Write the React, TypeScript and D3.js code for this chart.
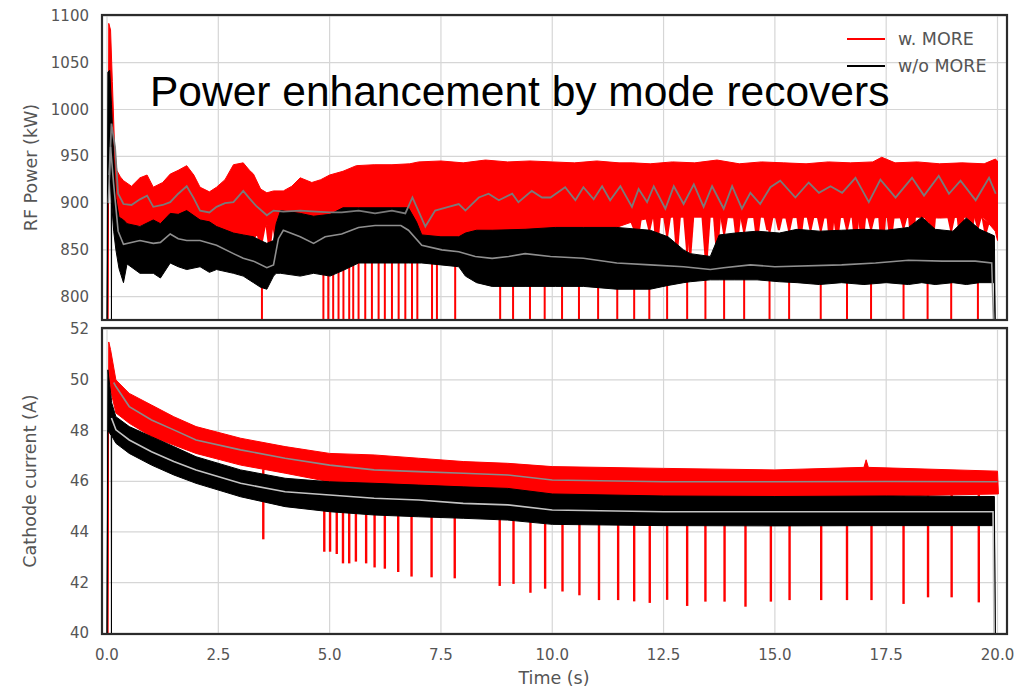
import React from "react";
import * as d3 from "d3";

const W = 1032;
const H = 689;

// ---------- ticks / labels ----------
const xTicks = [0, 2.5, 5, 7.5, 10, 12.5, 15, 17.5, 20];
const powerTicks = [800, 850, 900, 950, 1000, 1050, 1100];
const currentTicks = [40, 42, 44, 46, 48, 50, 52];
const seriesNames = ["w. MORE", "w/o MORE"];
const seriesColors = ["#ff0000", "#000000"];
const titleText = "Power enhancement by mode recovers";

// ---------- RF power, w. MORE : [t, hi, lo] noise envelope ----------
const redPowerBand: [number, number, number][] = [
  [0.02, 760, 760], [0.04, 1092, 960], [0.08, 1085, 990], [0.12, 1030, 930],
  [0.17, 960, 900], [0.22, 935, 890], [0.30, 928, 882], [0.37, 924, 878],
  [0.55, 918, 876], [0.74, 927, 876], [0.90, 930, 878], [1.04, 917, 876],
  [1.25, 922, 878], [1.42, 931, 878], [1.60, 935, 880], [1.79, 940, 884],
  [1.95, 930, 878], [2.09, 917, 872], [2.30, 912, 870], [2.46, 917, 872],
  [2.65, 925, 868], [2.84, 941, 866], [3.06, 943, 866], [3.20, 935, 862],
  [3.29, 931, 862], [3.45, 915, 870], [3.59, 911, 876], [3.74, 913, 876],
  [3.96, 913, 880], [4.15, 918, 882], [4.34, 927, 882], [4.60, 922, 882],
  [4.80, 925, 882], [5.00, 930, 885], [5.30, 934, 885], [5.60, 940, 885],
  [6.00, 941, 885], [6.40, 941, 885], [6.80, 942, 880], [7.00, 944, 862],
  [7.50, 945, 862], [8.00, 943, 862], [8.50, 946, 862], [9.00, 944, 862],
  [9.50, 945, 862], [10.0, 944, 865], [10.5, 943, 868], [11.0, 945, 870],
  [11.5, 943, 875], [11.8, 943, 880], [12.2, 942, 884], [12.7, 944, 885],
  [13.2, 943, 885], [13.7, 946, 885], [14.2, 942, 884], [14.7, 944, 885],
  [15.2, 943, 884], [15.7, 942, 885], [16.2, 944, 884], [16.7, 943, 885],
  [17.2, 944, 884], [17.4, 949, 885], [17.7, 943, 884], [18.2, 944, 885],
  [18.7, 942, 884], [19.2, 943, 885], [19.7, 942, 884], [19.95, 947, 870],
  [20.0, 945, 860],
];

// smoothed RF power, w. MORE : [t, value]
const redPowerMean: [number, number][] = [
  [0.05, 930], [0.10, 985], [0.18, 960], [0.25, 910], [0.37, 899], [0.55, 898],
  [0.74, 904], [0.90, 908], [1.04, 896], [1.25, 898], [1.42, 901], [1.60, 910],
  [1.79, 918], [1.95, 905], [2.09, 892], [2.30, 890], [2.46, 896], [2.65, 900],
  [2.84, 901], [3.06, 913], [3.20, 905], [3.35, 897], [3.59, 887], [3.74, 892],
  [3.96, 891], [4.34, 892], [4.70, 891], [5.01, 890], [5.27, 890], [5.65, 892],
  [6.02, 889], [6.40, 892], [6.70, 889], [6.86, 906], [7.15, 875], [7.37, 892],
  [7.67, 896], [7.90, 899], [8.05, 892], [8.35, 906], [8.57, 910], [8.80, 903],
  [9.10, 910], [9.24, 901], [9.54, 913], [9.77, 906], [9.96, 906], [10.29, 917],
  [10.52, 903], [10.70, 917], [10.93, 904], [11.12, 918], [11.30, 903], [11.53, 918],
  [11.79, 896], [11.94, 915], [12.13, 901], [12.28, 918], [12.54, 894], [12.73, 918],
  [12.95, 899], [13.18, 920], [13.40, 896], [13.59, 918], [13.85, 894], [14.04, 918],
  [14.26, 894], [14.45, 911], [14.67, 899], [14.90, 917], [15.12, 924], [15.46, 906],
  [15.76, 922], [15.99, 911], [16.25, 918], [16.51, 911], [16.81, 927], [17.11, 901],
  [17.37, 925], [17.71, 906], [18.08, 927], [18.35, 908], [18.68, 929], [18.91, 910],
  [19.17, 924], [19.51, 903], [19.81, 927], [19.96, 910],
];

// MORE events: deep dips of RF power (below axis)
const moreDipTimes = [
  3.48, 4.86, 4.97, 5.08, 5.2, 5.31, 5.44, 5.53, 5.65, 5.8, 5.95, 6.1, 6.24, 6.4,
  6.55, 6.7, 6.85, 6.97, 7.3, 7.41, 7.82, 8.83, 9.12, 9.5, 9.83, 10.22, 10.6,
  11.03, 11.46, 11.84, 12.18, 12.58, 13.03, 13.44, 13.86, 14.31, 14.88, 15.32,
  16.03, 16.62, 17.16, 17.89, 18.43, 18.96, 19.56,
];
const moreDipFloor = 700;

// shallower downward teeth of RF power w. MORE : [t, min]
const redPowerTeeth: [number, number][] = [
  [3.45, 855], [3.65, 850], [3.8, 855], [11.92, 860], [12.35, 850], [12.80, 846],
  [13.10, 843], [13.47, 841], [13.70, 843], [14.15, 857], [14.60, 860], [14.83, 871],
  [15.09, 871], [15.57, 860], [15.80, 871], [16.25, 850], [16.40, 860], [16.81, 853],
  [16.96, 850], [17.41, 843], [17.60, 857], [18.08, 846], [18.53, 850], [19.17, 857],
  [19.40, 860], [19.73, 867],
];

// ---------- RF power, w/o MORE ----------
const blackPowerBand: [number, number, number][] = [
  [0.00, 760, 760], [0.02, 1040, 900], [0.06, 1042, 950], [0.095, 1010, 900],
  [0.10, 1005, 760], [0.105, 1000, 900], [0.15, 950, 870], [0.20, 905, 850],
  [0.27, 885, 830], [0.37, 882, 815], [0.45, 878, 835], [0.74, 875, 825],
  [1.04, 882, 825], [1.20, 878, 820], [1.42, 889, 836], [1.60, 888, 832],
  [1.79, 892, 829], [2.09, 882, 832], [2.30, 880, 826], [2.46, 875, 829],
  [2.84, 868, 825], [3.06, 866, 822], [3.29, 864, 815], [3.45, 860, 810],
  [3.59, 857, 808], [3.74, 860, 822], [3.80, 878, 825], [3.90, 892, 825],
  [4.34, 889, 822], [4.64, 886, 825], [5.01, 888, 822], [5.30, 895, 828],
  [5.65, 895, 836], [6.02, 895, 836], [6.40, 895, 836], [6.77, 895, 836],
  [6.95, 880, 836], [7.07, 866, 836], [7.50, 864, 834], [7.90, 864, 832],
  [8.05, 868, 822], [8.30, 871, 815], [8.65, 871, 811], [9.39, 872, 811],
  [10.07, 874, 811], [10.70, 874, 811], [11.45, 874, 808], [12.20, 871, 808],
  [12.60, 864, 812], [12.95, 850, 815], [13.10, 846, 816], [13.55, 843, 818],
  [13.75, 866, 818], [14.10, 868, 818], [14.60, 870, 818], [15.10, 868, 816],
  [15.50, 872, 815], [16.00, 870, 813], [16.50, 871, 815], [17.00, 872, 813],
  [17.50, 871, 815], [18.00, 874, 813], [18.30, 885, 815], [18.60, 872, 813],
  [19.00, 870, 815], [19.30, 884, 813], [19.60, 872, 815], [19.93, 865, 815],
  [19.95, 760, 760],
];

const blackPowerMean: [number, number][] = [
  [0.03, 900], [0.08, 960], [0.15, 920], [0.25, 870], [0.37, 856], [0.74, 860],
  [1.04, 857], [1.20, 858], [1.42, 867], [1.60, 862], [1.79, 860], [2.09, 860],
  [2.46, 855], [2.84, 846], [3.06, 841], [3.29, 838], [3.59, 831], [3.74, 834],
  [3.85, 862], [3.96, 871], [4.34, 864], [4.64, 857], [4.90, 864], [5.27, 867],
  [5.65, 874], [6.02, 876], [6.60, 876], [6.77, 871], [7.07, 855], [7.52, 850],
  [7.90, 848], [8.27, 843], [8.65, 841], [9.02, 843], [9.39, 846], [9.96, 843],
  [10.70, 841], [11.45, 836], [12.20, 834], [12.95, 832], [13.55, 829], [13.85, 831],
  [14.45, 834], [15.00, 832], [16.50, 834], [17.26, 836], [18.00, 839], [18.76, 838],
  [19.50, 838], [19.87, 836], [19.92, 760],
];

// ---------- Cathode current, w. MORE ----------
const redCurrentBand: [number, number, number][] = [
  [0.02, 40, 40], [0.04, 51.5, 50.3], [0.08, 51.2, 49.6], [0.2, 50.0, 48.7],
  [0.5, 49.47, 48.29], [1.0, 49.01, 47.76], [1.5, 48.55, 47.43], [2.0, 48.16, 47.1],
  [3.0, 47.7, 46.64], [4.0, 47.37, 46.32], [5.0, 47.1, 45.98], [6.0, 47.04, 45.92],
  [7.0, 46.91, 45.79], [8.0, 46.78, 45.72], [9.0, 46.71, 45.66], [10.0, 46.58, 45.46],
  [12.5, 46.51, 45.39], [15.0, 46.45, 45.39], [17.0, 46.55, 45.4], [17.05, 46.85, 45.4],
  [17.1, 46.55, 45.4], [20.0, 46.4, 45.5], [20.02, 45.5, 45.5],
];

const redCurrentMean: [number, number][] = [
  [0.15, 49.9], [0.2, 49.74], [0.5, 48.95], [1.0, 48.42], [1.5, 48.03], [2.0, 47.63],
  [3.0, 47.24], [4.0, 46.91], [5.0, 46.64], [6.0, 46.45], [7.0, 46.38], [8.0, 46.32],
  [9.0, 46.25], [10.0, 46.05], [12.5, 45.98], [15.0, 45.98], [17.5, 45.99], [20.0, 45.98],
];

// current drops at MORE events : [t, min]
const currentSpikes: [number, number][] = [
  [3.51, 43.71], [4.88, 43.22], [5.01, 43.22], [5.16, 43.13], [5.30, 42.76],
  [5.44, 42.76], [5.59, 42.83], [5.82, 42.76], [6.01, 42.6], [6.24, 42.55],
  [6.54, 42.42], [6.84, 42.24], [7.29, 42.21], [7.81, 42.17], [8.82, 41.87],
  [9.13, 41.95], [9.51, 41.6], [9.84, 41.76], [10.23, 41.65], [10.61, 41.5],
  [11.05, 41.31], [11.48, 41.31], [11.84, 41.26], [12.19, 41.2], [12.58, 41.32],
  [13.03, 41.08], [13.44, 41.25], [13.87, 41.25], [14.34, 41.05], [14.91, 41.25],
  [15.33, 41.31], [16.04, 41.31], [16.62, 41.31], [17.17, 41.31], [17.89, 41.16],
  [18.44, 41.42], [18.97, 41.42], [19.58, 41.22],
];

// ---------- Cathode current, w/o MORE ----------
const blackCurrentBand: [number, number, number][] = [
  [0.00, 40, 40], [0.02, 50.4, 48.0], [0.06, 49.8, 47.9], [0.095, 49.3, 47.8],
  [0.10, 49.2, 40], [0.105, 49.1, 47.8], [0.2, 48.55, 47.5], [0.5, 48.16, 47.1],
  [1.0, 47.76, 46.64], [1.5, 47.37, 46.25], [2.0, 46.97, 45.92], [3.0, 46.45, 45.39],
  [4.0, 46.12, 45.0], [5.0, 45.98, 44.8], [6.0, 45.92, 44.67], [7.0, 45.85, 44.6],
  [8.0, 45.78, 44.54], [9.0, 45.72, 44.47], [10.0, 45.5, 44.3], [12.5, 45.42, 44.25],
  [15.0, 45.4, 44.24], [17.5, 45.42, 44.25], [19.93, 45.4, 44.25], [19.95, 40, 40],
];

const blackCurrentMean: [number, number][] = [
  [0.1, 48.5], [0.2, 48.03], [0.5, 47.63], [1.0, 47.17], [1.5, 46.78], [2.0, 46.45],
  [3.0, 45.92], [4.0, 45.59], [5.0, 45.46], [6.0, 45.33], [7.0, 45.26], [8.0, 45.13],
  [9.0, 45.07], [10.0, 44.87], [12.5, 44.8], [15.0, 44.8], [17.5, 44.8], [19.9, 44.8],
  [19.92, 40],
];

// ---------- layout ----------
const topBox = { left: 102, top: 15, right: 1007, bottom: 320 };
const botBox = { left: 102, top: 328, right: 1007, bottom: 634 };

const x = d3.scaleLinear().domain([0, 20]).range([107, 997.5]);
const yTop = d3.scaleLinear().domain([800, 1100]).range([296.7, 15.9]);
const yBot = d3.scaleLinear().domain([40, 52]).range([633.3, 329.3]);

const tickFont = "'DejaVu Sans', Verdana, sans-serif";
const tickColor = "#555";

function bandPath(data: [number, number, number][], y: d3.ScaleLinear<number, number>) {
  return d3
    .area<[number, number, number]>()
    .x((d) => x(d[0]))
    .y0((d) => y(d[2]))
    .y1((d) => y(d[1]))(data) as string;
}
function linePath(data: [number, number][], y: d3.ScaleLinear<number, number>) {
  return d3
    .line<[number, number]>()
    .x((d) => x(d[0]))
    .y((d) => y(d[1]))(data) as string;
}
function interp(data: [number, number, number][], idx: number) {
  return d3
    .scaleLinear()
    .domain(data.map((d) => d[0]))
    .range(data.map((d) => d[idx]))
    .clamp(true);
}

const redPowLoAt = interp(redPowerBand, 2);
const blackPowHiAt = interp(blackPowerBand, 1);
const redCurLoAt = interp(redCurrentBand, 2);

function Grid({ box, y, ticks }: any) {
  return (
    <g>
      {xTicks.map((t) => (
        <line key={"gx" + t} x1={x(t)} x2={x(t)} y1={box.top} y2={box.bottom} stroke="#d6d6d6" strokeWidth={1.2} />
      ))}
      {ticks.map((v: number) => (
        <line key={"gy" + v} x1={box.left} x2={box.right} y1={y(v)} y2={y(v)} stroke="#d6d6d6" strokeWidth={1.2} />
      ))}
    </g>
  );
}

export default function App() {
  const ptsStr = (pts: [number, number][]) => pts.map((p) => p.join(",")).join(" ");
  const toothHalf = 0.09;

  return (
    <svg
      width={W}
      height={H}
      viewBox={`0 0 ${W} ${H}`}
      style={{ position: "absolute", left: 0, top: 0, background: "#fff" }}
    >
      <defs>
        <clipPath id="clipTop">
          <rect x={topBox.left} y={topBox.top} width={topBox.right - topBox.left} height={topBox.bottom - topBox.top} />
        </clipPath>
        <clipPath id="clipBot">
          <rect x={botBox.left} y={botBox.top} width={botBox.right - botBox.left} height={botBox.bottom - botBox.top} />
        </clipPath>
      </defs>
      <rect x={0} y={0} width={W} height={H} fill="#fff" />

      {/* ---------------- top panel ---------------- */}
      <Grid box={topBox} y={yTop} ticks={powerTicks} />
      <g clipPath="url(#clipTop)">
        <path d={bandPath(redPowerBand, yTop)} fill={seriesColors[0]} stroke={seriesColors[0]} strokeWidth={1} />
        {redPowerTeeth.map(([t, m], i) => (
          <polygon
            key={"tt" + i}
            fill={seriesColors[0]}
            points={ptsStr([
              [x(t - toothHalf), yTop(redPowLoAt(t - toothHalf)) - 1],
              [x(t) - 1, yTop(m)],
              [x(t) + 1, yTop(m)],
              [x(t + toothHalf), yTop(redPowLoAt(t + toothHalf)) - 1],
            ])}
          />
        ))}
        {moreDipTimes.map((t, i) => (
          <polygon
            key={"dd" + i}
            fill={seriesColors[0]}
            points={ptsStr([
              [x(t - toothHalf), yTop(redPowLoAt(t - toothHalf)) - 1],
              [x(t) - 1, yTop(blackPowHiAt(t))],
              [x(t) - 1, yTop(moreDipFloor)],
              [x(t) + 1, yTop(moreDipFloor)],
              [x(t) + 1, yTop(blackPowHiAt(t))],
              [x(t + toothHalf), yTop(redPowLoAt(t + toothHalf)) - 1],
            ])}
          />
        ))}
        <path d={bandPath(blackPowerBand, yTop)} fill={seriesColors[1]} stroke={seriesColors[1]} strokeWidth={1} />
        <path d={linePath(redPowerMean, yTop)} fill="none" stroke="#7a7a7a" strokeWidth={1.8} />
        <path d={linePath(blackPowerMean, yTop)} fill="none" stroke="#8f8f8f" strokeWidth={1.6} />
      </g>
      <rect
        x={topBox.left}
        y={topBox.top}
        width={topBox.right - topBox.left}
        height={topBox.bottom - topBox.top}
        fill="none"
        stroke="#2b2b2b"
        strokeWidth={2.2}
      />
      {powerTicks.map((v) => (
        <text key={"pt" + v} x={89} y={yTop(v)} textAnchor="end" dominantBaseline="central" fontFamily={tickFont} fontSize={15} fill={tickColor}>
          {v}
        </text>
      ))}
      <text
        transform={`translate(31,${(topBox.top + topBox.bottom) / 2}) rotate(-90)`}
        textAnchor="middle"
        dominantBaseline="central"
        fontFamily={tickFont}
        fontSize={17.5}
        fill={tickColor}
      >
        RF Power (kW)
      </text>

      {/* legend */}
      {seriesNames.map((n, i) => (
        <g key={"lg" + i}>
          <line x1={847} x2={885} y1={39 + i * 27} y2={39 + i * 27} stroke={seriesColors[i]} strokeWidth={2} />
          <text x={898} y={39 + i * 27} dominantBaseline="central" fontFamily={tickFont} fontSize={17.5} fill={tickColor}>
            {n}
          </text>
        </g>
      ))}

      {/* ---------------- bottom panel ---------------- */}
      <Grid box={botBox} y={yBot} ticks={currentTicks} />
      <g clipPath="url(#clipBot)">
        <path d={bandPath(redCurrentBand, yBot)} fill={seriesColors[0]} stroke={seriesColors[0]} strokeWidth={1} />
        {currentSpikes.map(([t, m], i) => (
          <line
            key={"cs" + i}
            x1={x(t)}
            x2={x(t)}
            y1={yBot(redCurLoAt(t))}
            y2={yBot(m)}
            stroke={seriesColors[0]}
            strokeWidth={2.4}
          />
        ))}
        <path d={bandPath(blackCurrentBand, yBot)} fill={seriesColors[1]} stroke={seriesColors[1]} strokeWidth={1} />
        <path d={linePath(redCurrentMean, yBot)} fill="none" stroke="#8a8a8a" strokeWidth={1.6} />
        <path d={linePath(blackCurrentMean, yBot)} fill="none" stroke="#c4c4c4" strokeWidth={1.6} />
      </g>
      <rect
        x={botBox.left}
        y={botBox.top}
        width={botBox.right - botBox.left}
        height={botBox.bottom - botBox.top}
        fill="none"
        stroke="#2b2b2b"
        strokeWidth={2.2}
      />
      {currentTicks.map((v) => (
        <text key={"ct" + v} x={89} y={yBot(v)} textAnchor="end" dominantBaseline="central" fontFamily={tickFont} fontSize={15} fill={tickColor}>
          {v}
        </text>
      ))}
      {xTicks.map((t) => (
        <text key={"xt" + t} x={x(t)} y={655} textAnchor="middle" dominantBaseline="central" fontFamily={tickFont} fontSize={15} fill={tickColor}>
          {d3.format(".1f")(t)}
        </text>
      ))}
      <text
        transform={`translate(30,${(botBox.top + botBox.bottom) / 2}) rotate(-90)`}
        textAnchor="middle"
        dominantBaseline="central"
        fontFamily={tickFont}
        fontSize={17.5}
        fill={tickColor}
      >
        Cathode current (A)
      </text>
      <text x={554} y={678} textAnchor="middle" dominantBaseline="central" fontFamily={tickFont} fontSize={17.5} fill={tickColor}>
        Time (s)
      </text>

      {/* overlay title */}
      <text x={150} y={106} fontFamily="'Liberation Sans', Arial, sans-serif" fontSize={42.5} fill="#000">
        {titleText}
      </text>
    </svg>
  );
}
